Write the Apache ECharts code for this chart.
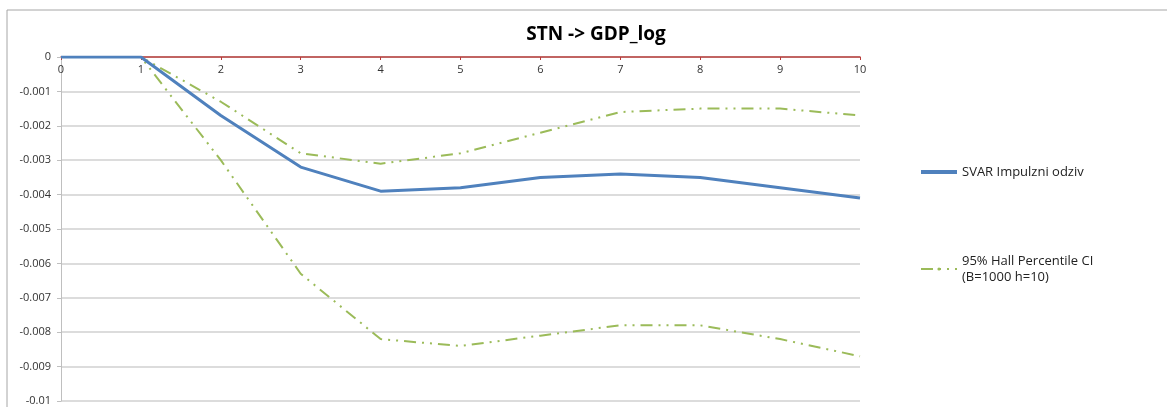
<!DOCTYPE html>
<html>
<head>
<meta charset="utf-8">
<script src="https://cdn.jsdelivr.net/npm/echarts@6/dist/echarts.min.js"></script>
<style>
  html, body { margin: 0; padding: 0; background: #fff; }
  #chart { width: 1167px; height: 407px; }
</style>
</head>
<body>
<div id="chart"></div>
<script>
const horizons = ['0', '1', '2', '3', '4', '5', '6', '7', '8', '9', '10'];
const svarIrf = [0, 0, -0.0017, -0.0032, -0.0039, -0.0038, -0.0035, -0.0034, -0.0035, -0.0038, -0.0041];
const ciUpper = [0, 0, -0.0013, -0.0028, -0.0031, -0.0028, -0.0022, -0.0016, -0.0015, -0.0015, -0.0017];
const ciLower = [0, 0, -0.0030, -0.0063, -0.0082, -0.0084, -0.0081, -0.0078, -0.0078, -0.0082, -0.0087];

const chart = echarts.init(document.getElementById('chart'));
const ciName = '95% Hall Percentile CI\n(B=1000 h=10)';
const ciDash = [12, 6, 2, 6, 2, 6];

chart.setOption({
  animation: false,
  textStyle: { fontFamily: 'Open Sans' },
  title: {
    text: 'STN -> GDP_log',
    left: 591,
    textAlign: 'center',
    top: 20,
    textStyle: { fontSize: 19, fontWeight: 'bold', color: '#000' }
  },
  graphic: [{
    type: 'polyline',
    shape: { points: [[7, 407], [7, 10], [1167, 10]] },
    style: { stroke: '#a6a6a6', lineWidth: 1, fill: null }
  }],
  legend: {
    orient: 'vertical',
    left: 915,
    top: 159,
    itemGap: 73,
    itemWidth: 36,
    itemHeight: 4,
    textStyle: { fontSize: 13, color: '#222', lineHeight: 16 },
    data: [
      { name: 'SVAR Impulzni odziv', icon: 'rect' },
      { name: ciName }
    ]
  },
  grid: { left: 61, right: 307, top: 57, bottom: 6 },
  xAxis: {
    type: 'category',
    data: horizons,
    boundaryGap: false,
    position: 'top',
    axisLine: { onZero: false, lineStyle: { color: '#b83c3a', width: 1.5 } },
    axisTick: { show: true, inside: true, length: 3, lineStyle: { color: '#b83c3a' } },
    axisLabel: { inside: true, color: '#333', fontSize: 11, margin: 7 },
    splitLine: { show: false }
  },
  yAxis: {
    type: 'value',
    min: -0.01,
    max: 0,
    interval: 0.001,
    axisLine: { show: true, lineStyle: { color: '#bfbfbf' } },
    axisTick: { show: true, length: 4, lineStyle: { color: '#bfbfbf' } },
    axisLabel: {
      color: '#333',
      fontSize: 11,
      margin: 10,
      formatter: v => String(Number(v.toFixed(3)))
    },
    splitLine: { lineStyle: { color: '#d0d0d0', width: 1.5 } }
  },
  series: [
    {
      name: ciName,
      type: 'line',
      data: ciUpper,
      symbol: 'none',
      lineStyle: { color: '#9bbb59', width: 2, type: ciDash },
      itemStyle: { color: '#9bbb59' }
    },
    {
      name: ciName,
      type: 'line',
      data: ciLower,
      symbol: 'none',
      lineStyle: { color: '#9bbb59', width: 2, type: ciDash },
      itemStyle: { color: '#9bbb59' }
    },
    {
      name: 'SVAR Impulzni odziv',
      type: 'line',
      data: svarIrf,
      symbol: 'none',
      z: 3,
      lineStyle: { color: '#4f81bd', width: 3 },
      itemStyle: { color: '#4f81bd' }
    }
  ]
});
</script>
</body>
</html>
